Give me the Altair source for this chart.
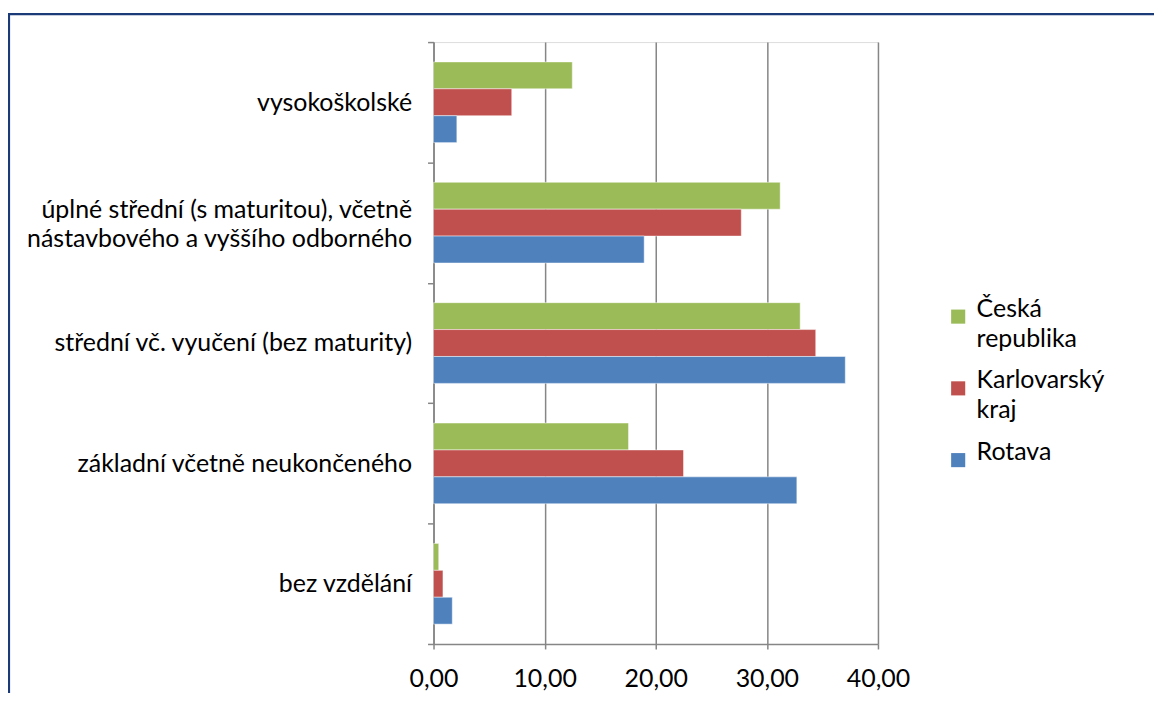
import altair as alt
import pandas as pd

categories = [
    "vysokoškolské",
    "úplné střední (s maturitou), včetně\nnástavbového a vyššího odborného",
    "střední vč. vyučení (bez maturity)",
    "základní včetně neukončeného",
    "bez vzdělání",
]
series = ["Česká republika", "Karlovarský kraj", "Rotava"]
colors = ["#9BBB59", "#C0504D", "#4F81BD"]

ceska_republika = [12.49, 31.2, 33.0, 17.55, 0.47]
karlovarsky_kraj = [7.04, 27.7, 34.4, 22.5, 0.85]
rotava = [2.10, 18.96, 37.06, 32.7, 1.69]

x_ticks = [0, 10, 20, 30, 40]

rows = []
for s, vals in zip(series, [ceska_republika, karlovarsky_kraj, rotava]):
    for c, v in zip(categories, vals):
        rows.append({"kategorie": c, "serie": s, "hodnota": v})
df = pd.DataFrame(rows)

FONT = "Lato"
GRAY = "#868686"
FS = 25

legend_expr = (
    "datum.value == 'Česká republika' ? ['Česká', 'republika'] : "
    "datum.value == 'Karlovarský kraj' ? ['Karlovarský', 'kraj'] : datum.value"
)

bars = alt.Chart(df).mark_bar(stroke="white", strokeWidth=0.8, strokeOpacity=0.6).encode(
    y=alt.Y(
        "kategorie:N",
        sort=categories,
        title=None,
        scale=alt.Scale(paddingInner=0, paddingOuter=0),
        axis=alt.Axis(
            tickBand="extent",
            tickSize=6,
            tickColor=GRAY,
            tickWidth=1.5,
            domainColor=GRAY,
            domainWidth=1.5,
            labelFont=FONT,
            labelFontSize=FS,
            labelColor="black",
            labelPadding=16,
            labelLineHeight=29,
            labelBaseline={
                "condition": {
                    "test": "isString(datum.value) && indexof(datum.value, '\\n') >= 0",
                    "value": "bottom",
                },
                "value": "middle",
            },
            labelExpr="isString(datum.value) ? split(datum.value, '\\n') : ''",
            labelLimit=500,
        ),
    ),
    yOffset=alt.YOffset(
        "serie:N",
        sort=series,
        scale=alt.Scale(paddingInner=0, paddingOuter=0.737),
    ),
    x=alt.X(
        "hodnota:Q",
        title=None,
        scale=alt.Scale(domain=[0, 40], nice=False),
        axis=alt.Axis(
            values=x_ticks,
            grid=True,
            gridColor=GRAY,
            gridWidth=1.5,
            tickColor=GRAY,
            tickWidth=1.5,
            tickSize=5,
            domainColor=GRAY,
            domainWidth=1.5,
            labelFont=FONT,
            labelFontSize=FS,
            labelColor="black",
            labelPadding=18,
            labelFlush=False,
            labelExpr="replace(format(datum.value, '.2f'), '.', ',')",
        ),
    ),
    color=alt.Color(
        "serie:N",
        sort=series,
        scale=alt.Scale(domain=series, range=colors),
        legend=alt.Legend(
            title=None,
            orient="none",
            legendX=514,
            legendY=263,
            symbolType="square",
            symbolSize=200,
            symbolStrokeWidth=0,
            labelFont=FONT,
            labelFontSize=FS,
            labelColor="black",
            labelBaseline="alphabetic",
            labelOffset=6,
            rowPadding=16,
            labelExpr=legend_expr,
            labelLimit=300,
        ),
    ),
)

frame = alt.Chart(pd.DataFrame({"a": [0]})).mark_rect(
    filled=False, stroke="#1B3A78", strokeWidth=2.2, clip=False
).encode(
    x=alt.value(-426),
    x2=alt.value(900),
    y=alt.value(-28),
    y2=alt.value(800),
)

chart = alt.layer(frame, bars).properties(
    width=446,
    height=604,
    autosize=alt.AutoSizeParams(type="none"),
    padding={"left": 427, "top": 33, "right": 277, "bottom": 48},
).configure_view(stroke=None).configure(
    style={"guide-label": {"lineHeight": 30}}
)

chart.save("out.html", embed_options={"renderer": "svg", "actions": False})
